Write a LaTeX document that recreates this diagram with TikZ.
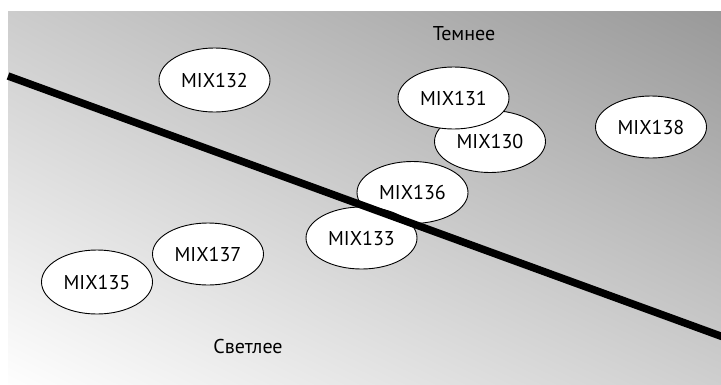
\documentclass[tikz,border=0pt]{standalone}
\usepackage{fontspec}
\setmainfont{PT Sans}
\usetikzlibrary{shapes.geometric,shadings}
\definecolor{shadeTL}{gray}{0.80}
\definecolor{shadeTR}{gray}{0.60}
\definecolor{shadeBL}{gray}{0.995}
\definecolor{shadeBR}{gray}{0.81}
\begin{document}
\begin{tikzpicture}[x=1pt,y=-1pt,
  mix/.style={ellipse, draw=black, line width=0.9pt, fill=white, inner sep=0pt,
              minimum width=111pt, minimum height=62pt,
              font=\fontsize{20}{22}\selectfont},
  sidelabel/.style={inner sep=0pt, font=\fontsize{20}{22}\selectfont},
  divider/.style={line width=7.5pt, black}]
\useasboundingbox (0,0) rectangle (721,384);
\clip (0,0) rectangle (721,384);

% shaded field: light at the lower left, dark at the upper right
\shade[upper left=shadeTL, upper right=shadeTR, lower left=shadeBL, lower right=shadeBR]
  (8,11) rectangle (721,384);

% samples
\node[mix, minimum height=64pt] (m132) at (214.5,80) {MIX132};
\node[mix] (m130) at (490,141.5) {MIX130};
\node[mix] (m131) at (453.5,98) {MIX131};
\node[mix] (m138) at (651,127) {MIX138};
\node[mix] (m136) at (412.5,192.5) {MIX136};
\node[mix] (m133) at (361.5,238) {MIX133};
\node[mix] (m137) at (208,254) {MIX137};
\node[mix, minimum height=64pt] (m135) at (97,282) {MIX135};

% dividing line
\coordinate (lineA) at (8,76);
\coordinate (lineB) at (726,338);
\draw[divider] (lineA) -- (lineB);

% side labels
\node[sidelabel] (darker) at (464,34) {Темнее};
\node[sidelabel] (lighter) at (248,346) {Светлее};
\end{tikzpicture}
\end{document}
